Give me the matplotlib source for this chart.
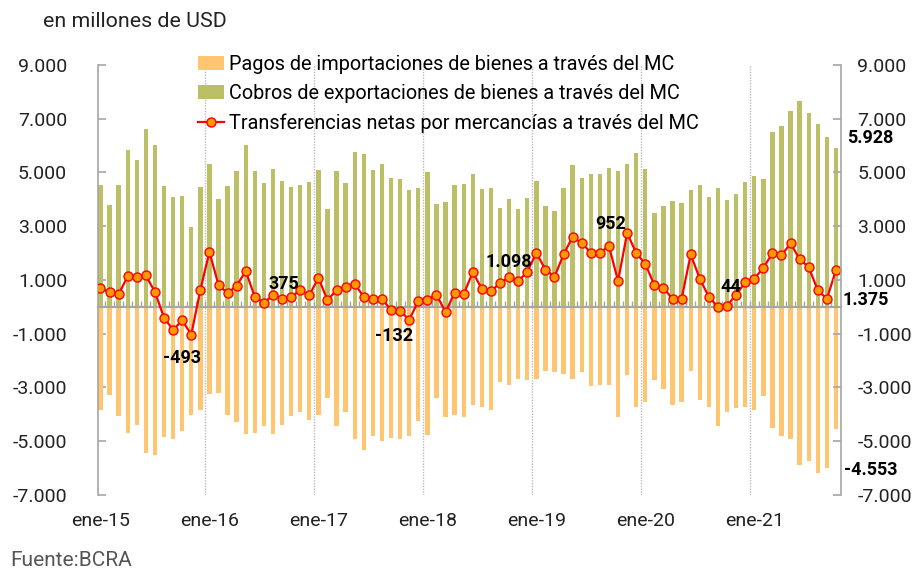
import matplotlib
matplotlib.use("Agg")
import matplotlib.pyplot as plt
import numpy as np
from matplotlib.ticker import FuncFormatter

plt.rcParams['font.family'] = ['Roboto', 'DejaVu Sans']

# monthly data, ene-15 .. oct-21, millones de USD
cobros = [4530, 3800, 4530, 5830, 5470, 6600, 6040, 4480, 4070, 4130, 2990, 4450,
          5300, 4000, 4500, 5060, 6030, 5070, 4600, 5140, 4680, 4450, 4550, 4640,
          5090, 3640, 5050, 4620, 5760, 5680, 5090, 5300, 4780, 4760, 4330, 4440,
          5010, 3820, 3910, 4530, 4580, 4930, 4390, 4420, 3670, 4010, 3640, 4040,
          4680, 3760, 3570, 4440, 5270, 4810, 4960, 4930, 5160, 5050, 5310, 5720,
          5120, 3510, 3750, 3950, 3860, 4330, 4530, 4080, 4430, 3970, 4210, 4650,
          4880, 4750, 6510, 6740, 7280, 7660, 7220, 6800, 6320, 5928]

pagos = [-3850, -3280, -4070, -4700, -4380, -5430, -5500, -4860, -4930, -4630, -4030, -3820,
         -3250, -3200, -4030, -4280, -4730, -4710, -4430, -4740, -4380, -4070, -3920, -4210,
         -4030, -3390, -4430, -3900, -4930, -5330, -4790, -5000, -4890, -4930, -4810, -4240,
         -4750, -3390, -4080, -4030, -4100, -3660, -3720, -3820, -2790, -2920, -2670, -2730,
         -2680, -2370, -2440, -2510, -2680, -2430, -2950, -2900, -2920, -4110, -2540, -3720,
         -3540, -2720, -3040, -3660, -3540, -2370, -3470, -3720, -4430, -3930, -3750, -3720,
         -3820, -3330, -4500, -4800, -4930, -5890, -5740, -6200, -5990, -4553]

netas = [690, 550, 470, 1140, 1100, 1170, 550, -400, -860, -500, -1030, 630,
         2050, 810, 510, 790, 1330, 370, 160, 430, 300, 360, 630, 430,
         1080, 250, 630, 740, 860, 370, 300, 300, -120, -150, -480, 210,
         270, 450, -190, 520, 470, 1290, 670, 580, 890, 1100, 960, 1300,
         2010, 1390, 1120, 1950, 2610, 2370, 2020, 2020, 2260, 960, 2750, 2000,
         1600, 810, 710, 290, 300, 1950, 1050, 370, 0, 50, 450, 910,
         1050, 1450, 2000, 1920, 2360, 1770, 1480, 610, 300, 1375]

year_labels = ['ene-15', 'ene-16', 'ene-17', 'ene-18', 'ene-19', 'ene-20', 'ene-21']

# (serie, indice, texto, dx, dy) offsets in points
etiquetas = [
    ('netas', 9, '-493', 0, -27),
    ('netas', 20, '375', 1, 11),
    ('netas', 32, '-132', 2, -19),
    ('netas', 45, '1.098', 0, 11),
    ('netas', 56, '952', 1, 16),
    ('netas', 69, '44', 3, 13),
    ('netas', 81, '1.375', 5, -22),
    ('cobros', 81, '5.928', 8, 7),
    ('pagos', 81, '-4.553', 6, -29),
]

GREEN = '#BDBF66'
ORANGE = '#FFC570'
AXIS = '#A6A6A6'
TXT = '#222222'


def miles(v, pos=None):
    s = f"{abs(v):,.0f}".replace(',', '.')
    return ('-' if v < 0 else '') + s


def plot_chart():
    fig = plt.figure(figsize=(9.16, 5.71), dpi=100)
    ax = fig.add_axes([0.1067, 0.1331, 0.8111, 0.7531])
    x = np.arange(len(cobros))
    ymin, ymax = -7000, 9000

    b1 = ax.bar(x, pagos, width=0.48, color=ORANGE, zorder=2,
                label='Pagos de importaciones de bienes a través del MC')
    b2 = ax.bar(x, cobros, width=0.48, color=GREEN, zorder=2,
                label='Cobros de exportaciones de bienes a través del MC')
    l1, = ax.plot(x, netas, color='#FF0000', lw=1.6, marker='o', markersize=6.5,
                  markerfacecolor='#FF9900', markeredgecolor='#FF0000', markeredgewidth=1.0,
                  zorder=4, label='Transferencias netas por mercancías a través del MC')

    for k in range(1, len(year_labels)):
        ax.axvline(12 * k - 0.5, color='#BBBBBB', lw=1, ls=(0, (1, 1)), zorder=1)

    ax.set_xlim(-0.3, len(cobros) - 0.48)
    ax.set_ylim(ymin, ymax)
    ticks = np.arange(ymin, ymax + 1, 2000)
    ax.set_yticks(ticks)
    ax.yaxis.set_major_formatter(FuncFormatter(miles))
    ax.tick_params(axis='y', direction='in', length=6, width=1.2, color=AXIS,
                   labelsize=14, labelcolor=TXT, pad=22)

    # zero line with monthly minor ticks
    ax.spines['bottom'].set_position(('data', 0))
    ax.spines['bottom'].set_color(AXIS)
    ax.spines['bottom'].set_linewidth(1.6)
    ax.spines['bottom'].set_zorder(3)
    ax.set_xticks([])
    ax.set_xticks(np.arange(len(cobros) - 1) + 0.5, minor=True)
    ax.tick_params(axis='x', which='minor', direction='in', length=4, width=1, color=AXIS)
    ax.spines['top'].set_visible(False)
    ax.spines['right'].set_visible(False)
    ax.spines['left'].set_color(AXIS)
    ax.spines['left'].set_linewidth(1.2)

    sec = ax.secondary_xaxis('bottom')
    sec.set_xticks(np.arange(len(year_labels)) * 12, labels=year_labels)
    sec.tick_params(length=0, labelsize=14, labelcolor=TXT, pad=12)
    sec.spines['bottom'].set_visible(False)

    ax2 = ax.twinx()
    ax2.set_ylim(ymin, ymax)
    ax2.set_yticks(ticks)
    ax2.yaxis.set_major_formatter(FuncFormatter(miles))
    ax2.tick_params(axis='y', direction='in', length=6, width=1.2, color=AXIS,
                    labelsize=14, labelcolor=TXT, pad=12)
    for s in ['top', 'left', 'bottom']:
        ax2.spines[s].set_visible(False)
    ax2.spines['right'].set_color(AXIS)
    ax2.spines['right'].set_linewidth(1.2)

    series = {'netas': netas, 'cobros': cobros, 'pagos': pagos}
    for name, i, txt, dx, dy in etiquetas:
        ha = 'left' if i == len(cobros) - 1 else 'center'
        ax.annotate(txt, xy=(i, series[name][i]), xytext=(dx, dy),
                    textcoords='offset points', ha=ha, va='center',
                    fontsize=13, fontweight='bold', color='black', zorder=6,
                    annotation_clip=False)

    ax.legend(handles=[b1, b2, l1], loc='upper left', bbox_to_anchor=(0.216, 0.904),
              bbox_transform=fig.transFigure, frameon=False, fontsize=14.3,
              handlelength=1.3, handleheight=0.7, handletextpad=0.25,
              labelspacing=0.52, borderaxespad=0, borderpad=0)

    fig.text(0.047, 0.963, 'en millones de USD', fontsize=15.4, color=TXT, va='center')
    fig.text(0.011, 0.019, 'Fuente:BCRA', fontsize=15, color='#555555', va='center')

    fig.savefig('out.png', dpi=100)


if __name__ == "__main__":
    plot_chart()
